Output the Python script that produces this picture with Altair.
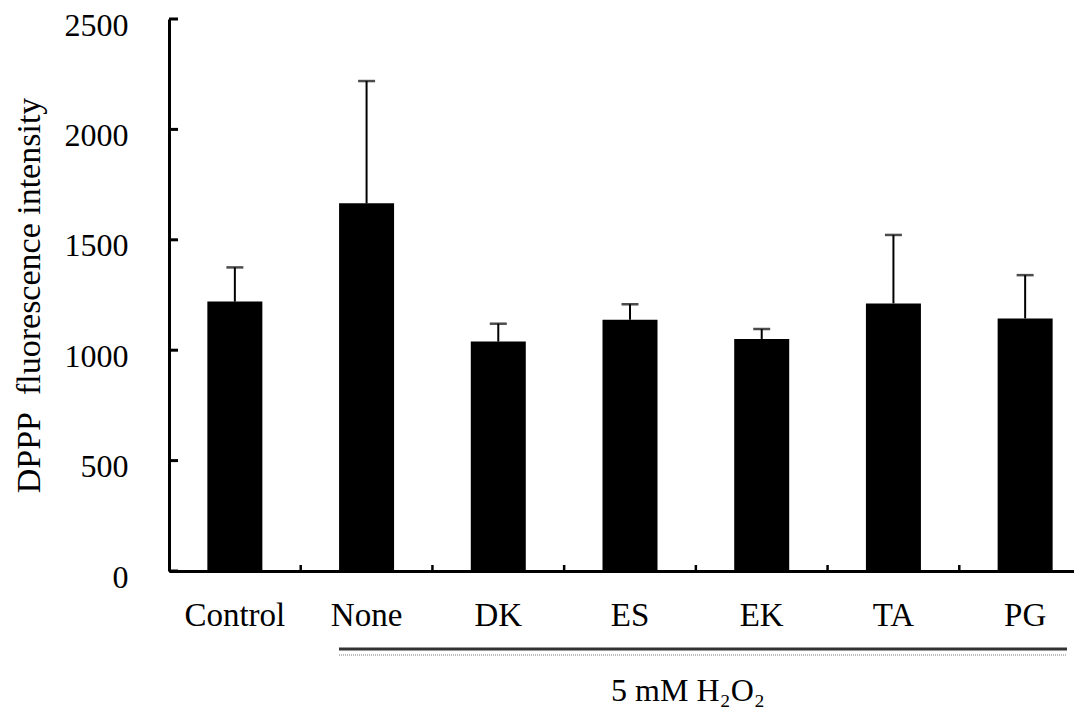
import altair as alt
import pandas as pd

categories = ["Control", "None", "DK", "ES", "EK", "TA", "PG"]
means = [1220, 1665, 1039, 1138, 1051, 1212, 1144]
errors = [155, 554, 81, 70, 45, 310, 196]
y_ticks = [0, 500, 1000, 1500, 2000, 2500]
group_label = "5 mM H\u2082O\u2082"
y_title = "DPPP\u00a0 fluorescence intensity"

FONT = "Liberation Serif"
W, H = 905, 552

df = pd.DataFrame({"cat": categories, "mean": means, "err": errors})
df["upper"] = df["mean"] + df["err"]
ticks_df = pd.DataFrame({"v": y_ticks})
bound_df = pd.DataFrame({"cat": categories[1:]})
lab_df = pd.DataFrame({"t": [group_label]})

xscale = alt.Scale(domain=categories, range=[0, 922], paddingInner=0, paddingOuter=0)
yscale = alt.Scale(domain=[0, 2500], nice=False)

x_enc = alt.X("cat:N", scale=xscale, sort=categories, title=None,
              axis=alt.Axis(labelAngle=0, ticks=False, tickSize=0, labelPadding=54,
                            labelBaseline="alphabetic", labelFont=FONT, labelFontSize=33,
                            labelColor="black", domainColor="black", domainWidth=3))
y_enc = alt.Y("mean:Q", scale=yscale,
              axis=alt.Axis(values=y_ticks, format="d", ticks=False, tickSize=0, grid=False,
                            labelPadding=41, labelBaseline="alphabetic", labelOffset=16,
                            labelFont=FONT, labelFontSize=32, labelColor="black",
                            domainColor="black", domainWidth=3,
                            title=y_title, titleFont=FONT, titleFontSize=34,
                            titleFontWeight="normal", titleColor="black",
                            titleAngle=270, titleX=-130, titleY=276,
                            titleAlign="center", titleBaseline="alphabetic"))

bars = alt.Chart(df).mark_bar(size=55, color="black").encode(x=x_enc, y=y_enc)

err_rule = alt.Chart(df).mark_rule(color="black", strokeWidth=2).encode(
    x=alt.X("cat:N", sort=categories), y="mean:Q", y2="upper:Q")
err_cap = alt.Chart(df).mark_tick(color="black", size=17, thickness=2.5).encode(
    x=alt.X("cat:N", sort=categories), y="upper:Q")

ytick_marks = alt.Chart(ticks_df).mark_rule(color="black", strokeWidth=3).encode(
    y="v:Q", x=alt.value(0), x2=alt.value(9))

xbound = alt.Chart(bound_df).mark_rule(color="black", strokeWidth=2.5).encode(
    x=alt.X("cat:N", sort=categories, bandPosition=0),
    y=alt.value(H), y2=alt.value(H - 6))

line_dark = alt.Chart(lab_df).mark_rule(color="#333333", strokeWidth=3).encode(
    x=alt.value(170), x2=alt.value(898), y=alt.value(630))
line_light = alt.Chart(lab_df).mark_rule(color="#bbbbbb", strokeWidth=2, strokeDash=[1, 1]).encode(
    x=alt.value(170), x2=alt.value(898), y=alt.value(636))
label = alt.Chart(lab_df).mark_text(font=FONT, fontSize=32, color="black",
                                    align="center", baseline="alphabetic").encode(
    text="t:N", x=alt.value(519), y=alt.value(682))

chart = alt.layer(bars, err_rule, err_cap, ytick_marks, xbound, line_dark, line_light, label).properties(
    width=W, height=H,
    autosize=alt.AutoSizeParams(type="none"),
    padding={"left": 161, "top": 11, "right": 0, "bottom": 140},
    background="white",
).configure_view(stroke=None)

chart.save("out.html", embed_options={"renderer": "svg", "actions": False})
